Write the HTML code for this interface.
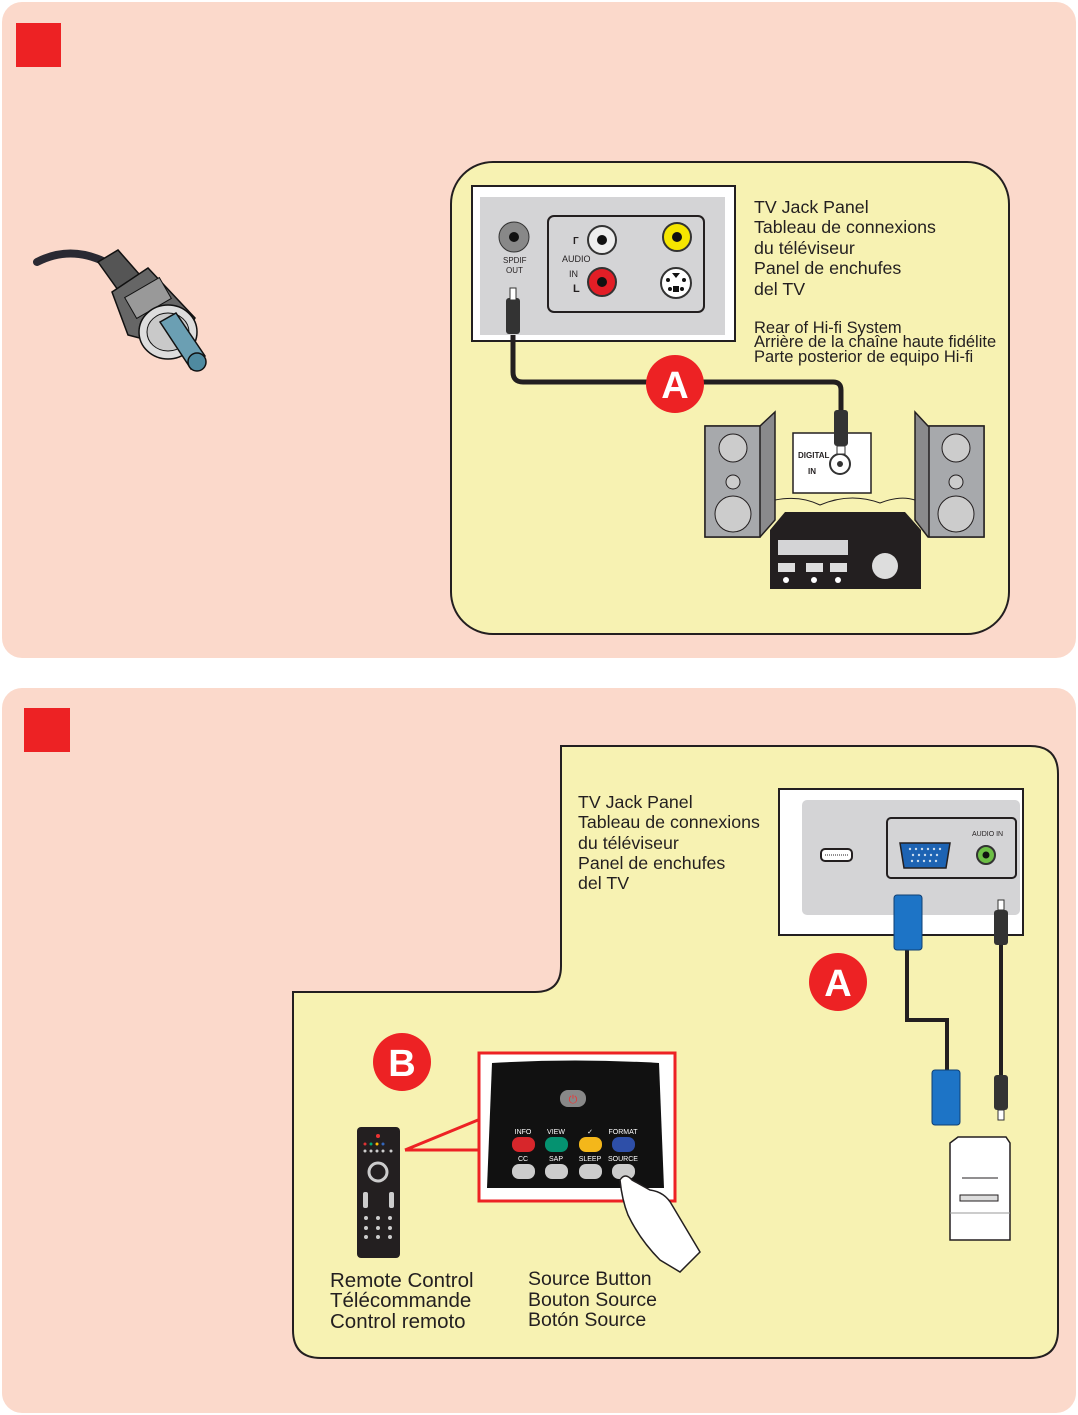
<!DOCTYPE html>
<html><head><meta charset="utf-8"><style>
html,body{margin:0;padding:0;background:#fff}
svg{display:block}
text{font-family:"Liberation Sans",sans-serif;fill:#231f20}
</style></head><body>
<svg width="1078" height="1415" viewBox="0 0 1078 1415" xmlns="http://www.w3.org/2000/svg">
<rect x="0" y="0" width="1078" height="1415" fill="#fff"/>
<rect x="2" y="2" width="1074" height="656" rx="20" fill="#fbd9cb"/>
<rect x="16" y="23" width="45" height="44" fill="#ed2224"/>
<rect x="451" y="162" width="558" height="472" rx="42" fill="#f7f2b2" stroke="#231f20" stroke-width="2"/>

<!-- plug icon -->
<g>
<path d="M37 262 Q70 245 105 262" stroke="#2a2a33" stroke-width="8" fill="none" stroke-linecap="round"/>
<path d="M98 262 L118 250 L160 298 L138 318 Z" fill="#555" stroke="#111" stroke-width="1.5"/>
<path d="M112 292 L148 268 L195 318 L178 348 L128 335 Z" fill="#666" stroke="#111" stroke-width="1.5"/>
<rect x="128" y="286" width="40" height="24" fill="#999" stroke="#111" transform="rotate(-30 148 298)"/>
<ellipse cx="168" cy="332" rx="29" ry="27" fill="#ddd" stroke="#111" stroke-width="1.5"/>
<ellipse cx="168" cy="332" rx="21" ry="19" fill="#c9c9c9" stroke="#111"/>
<path d="M160 322 L176 313 L205 356 L191 369 Z" fill="#6b9fb3" stroke="#111" stroke-width="1.5"/>
<circle cx="197" cy="362" r="9" fill="#4f8aa0" stroke="#111" stroke-width="1.5"/>
</g>

<!-- TV panel top -->
<rect x="472" y="186" width="263" height="155" fill="#fff" stroke="#231f20" stroke-width="2"/>
<rect x="480" y="197" width="245" height="138" fill="#d4d4d6"/>
<circle cx="514" cy="237" r="15" fill="#888" stroke="#333"/><circle cx="514" cy="237" r="5" fill="#111"/>
<text x="503" y="263" font-size="8">SPDIF</text><text x="506" y="273" font-size="8">OUT</text>
<rect x="548" y="216" width="156" height="96" rx="6" fill="none" stroke="#231f20" stroke-width="2"/>
<circle cx="602" cy="240" r="14" fill="#eee" stroke="#333" stroke-width="2"/><circle cx="602" cy="240" r="5" fill="#111"/>
<circle cx="602" cy="282" r="14" fill="#e21e26" stroke="#333" stroke-width="2"/><circle cx="602" cy="282" r="5" fill="#111"/>
<circle cx="677" cy="237" r="14" fill="#f5e600" stroke="#333" stroke-width="2"/><circle cx="677" cy="237" r="5" fill="#111"/>
<circle cx="676" cy="283" r="15" fill="#fff" stroke="#333" stroke-width="2"/>
<circle cx="668" cy="280" r="2" fill="#111"/><circle cx="684" cy="280" r="2" fill="#111"/><circle cx="670" cy="289" r="2" fill="#111"/><circle cx="682" cy="289" r="2" fill="#111"/><rect x="673" y="286" width="6" height="6" fill="#111"/><path d="M672 273 L680 273 L676 278 Z" fill="#111"/>
<text x="573" y="244" font-size="10" font-weight="bold">Г</text>
<text x="562" y="262" font-size="9">AUDIO</text><text x="569" y="277" font-size="9">IN</text>
<text x="573" y="292" font-size="11" font-weight="bold">L</text>
<path d="M513 335 L513 372 Q513 382 523 382 L833 382 Q841 382 841 390 L841 412" stroke="#231f20" stroke-width="5" fill="none"/>
<rect x="506" y="298" width="14" height="36" rx="3" fill="#333"/><rect x="510" y="288" width="6" height="12" fill="#fff" stroke="#333"/>
<circle cx="675" cy="384" r="29" fill="#ed2224"/>
<text x="675" y="398" font-size="38" font-weight="bold" text-anchor="middle" style="fill:#fff">A</text>

<!-- hifi -->
<path d="M705 426 L760 426 L775 412 L775 520 L760 537 L705 537 Z" fill="#8a8a8c" stroke="#231f20" stroke-width="1.5"/>
<rect x="705" y="426" width="55" height="111" fill="#a7a9ac" stroke="#231f20" stroke-width="1.5"/>
<circle cx="733" cy="448" r="14" fill="#ccc" stroke="#231f20"/><circle cx="733" cy="482" r="7" fill="#ccc" stroke="#231f20"/><circle cx="733" cy="514" r="18" fill="#ccc" stroke="#231f20"/>
<path d="M915 412 L928 426 L984 426 L984 537 L928 537 L915 520 Z" fill="#8a8a8c" stroke="#231f20" stroke-width="1.5"/>
<rect x="929" y="426" width="55" height="111" fill="#a7a9ac" stroke="#231f20" stroke-width="1.5"/>
<circle cx="956" cy="448" r="14" fill="#ccc" stroke="#231f20"/><circle cx="956" cy="482" r="7" fill="#ccc" stroke="#231f20"/><circle cx="956" cy="514" r="18" fill="#ccc" stroke="#231f20"/>
<path d="M775 500 Q800 495 820 505 Q850 492 880 503 Q900 495 915 500" stroke="#231f20" fill="none"/>
<rect x="793" y="433" width="78" height="60" fill="#fff" stroke="#231f20" stroke-width="1.5"/>
<text x="798" y="458" font-size="8" font-weight="bold">DIGITAL</text><text x="808" y="474" font-size="8" font-weight="bold">IN</text>
<circle cx="840" cy="464" r="10" fill="#fff" stroke="#333" stroke-width="2"/><circle cx="840" cy="464" r="3" fill="#333"/>
<rect x="834" y="410" width="14" height="36" rx="3" fill="#333"/><rect x="837" y="446" width="8" height="8" fill="#fff" stroke="#333"/>
<path d="M785 512 L905 512 L921 530 L921 589 L770 589 L770 530 Z" fill="#231f20"/>
<rect x="778" y="540" width="70" height="15" fill="#d4d4d6"/>
<rect x="778" y="563" width="17" height="9" fill="#ddd"/><rect x="806" y="563" width="17" height="9" fill="#ddd"/><rect x="830" y="563" width="17" height="9" fill="#ddd"/>
<circle cx="786" cy="580" r="3" fill="#fff"/><circle cx="814" cy="580" r="3" fill="#fff"/><circle cx="838" cy="580" r="3" fill="#fff"/>
<circle cx="885" cy="566" r="13" fill="#ddd"/>

<g font-size="17.8">
<text x="754" y="213">TV Jack Panel</text>
<text x="754" y="233">Tableau de connexions</text>
<text x="754" y="254">du téléviseur</text>
<text x="754" y="274">Panel de enchufes</text>
<text x="754" y="295">del TV</text>
</g>
<g font-size="16.5">
<text x="754" y="333">Rear of Hi-fi System</text>
<text x="754" y="347">Arrière de la chaîne haute fidélite</text>
<text x="754" y="362">Parte posterior de equipo Hi-fi</text>
</g>

<!-- bottom panel -->
<rect x="2" y="688" width="1074" height="725" rx="20" fill="#fbd9cb"/>
<rect x="24" y="708" width="46" height="44" fill="#ed2224"/>
<path d="M561 746 L1030 746 Q1058 746 1058 774 L1058 1330 Q1058 1358 1030 1358 L321 1358 Q293 1358 293 1330 L293 992 L535 992 Q561 992 561 966 Z" fill="#f7f2b2" stroke="#231f20" stroke-width="2"/>
<g font-size="17.8">
<text x="578" y="808">TV Jack Panel</text>
<text x="578" y="828">Tableau de connexions</text>
<text x="578" y="849">du téléviseur</text>
<text x="578" y="869">Panel de enchufes</text>
<text x="578" y="889">del TV</text>
</g>
<rect x="779" y="789" width="244" height="146" fill="#fff" stroke="#231f20" stroke-width="2"/>
<rect x="802" y="800" width="218" height="115" rx="5" fill="#d4d4d6"/>
<rect x="887" y="818" width="129" height="60" rx="4" fill="none" stroke="#231f20" stroke-width="2"/>
<rect x="821" y="849" width="31" height="12" rx="4" fill="#fff" stroke="#231f20" stroke-width="2"/>
<line x1="825" y1="855" x2="848" y2="855" stroke="#231f20" stroke-dasharray="1 1"/>
<path d="M900 843 L950 843 L946 868 L904 868 Z" fill="#1d63b3" stroke="#231f20" stroke-width="1.5"/>
<g fill="#cde">
<circle cx="910" cy="849" r="1.2"/><circle cx="916" cy="849" r="1.2"/><circle cx="922" cy="849" r="1.2"/><circle cx="928" cy="849" r="1.2"/><circle cx="934" cy="849" r="1.2"/><circle cx="940" cy="849" r="1.2"/>
<circle cx="913" cy="855" r="1.2"/><circle cx="919" cy="855" r="1.2"/><circle cx="925" cy="855" r="1.2"/><circle cx="931" cy="855" r="1.2"/><circle cx="937" cy="855" r="1.2"/>
<circle cx="912" cy="861" r="1.2"/><circle cx="918" cy="861" r="1.2"/><circle cx="924" cy="861" r="1.2"/><circle cx="930" cy="861" r="1.2"/><circle cx="936" cy="861" r="1.2"/>
</g>
<circle cx="986" cy="855" r="9" fill="#6cbe45" stroke="#333" stroke-width="2"/><circle cx="986" cy="855" r="3.5" fill="#111"/>
<text x="972" y="836" font-size="7">AUDIO IN</text>
<path d="M907 945 L907 1020 L947 1020 L947 1072" stroke="#231f20" stroke-width="4" fill="none"/>
<path d="M1001 945 L1001 1075" stroke="#231f20" stroke-width="4" fill="none"/>
<rect x="894" y="895" width="28" height="55" rx="3" fill="#1d74c6" stroke="#0f3f73"/>
<rect x="932" y="1070" width="28" height="55" rx="3" fill="#1d74c6" stroke="#0f3f73"/>
<rect x="994" y="910" width="14" height="35" rx="3" fill="#333"/><rect x="998" y="900" width="6" height="10" fill="#fff" stroke="#333"/>
<rect x="994" y="1075" width="14" height="35" rx="3" fill="#333"/><rect x="998" y="1110" width="6" height="10" fill="#fff" stroke="#333"/>
<circle cx="838" cy="982" r="29" fill="#ed2224"/>
<text x="838" y="996" font-size="38" font-weight="bold" text-anchor="middle" style="fill:#fff">A</text>
<path d="M958 1137 L1006 1137 L1010 1143 L1010 1240 L950 1240 L950 1143 Z" fill="#fff" stroke="#231f20" stroke-width="1.5"/>
<line x1="962" y1="1178" x2="998" y2="1178" stroke="#231f20"/>
<rect x="960" y="1195" width="38" height="6" fill="#ddd" stroke="#231f20"/>
<line x1="950" y1="1213" x2="1010" y2="1213" stroke="#999"/>

<circle cx="402" cy="1062" r="29" fill="#ed2224"/>
<text x="402" y="1076" font-size="38" font-weight="bold" text-anchor="middle" style="fill:#fff">B</text>
<rect x="357" y="1127" width="43" height="131" rx="4" fill="#231f20"/>
<g fill="#ccc">
<circle cx="378" cy="1136" r="2" fill="#e33"/>
<circle cx="365" cy="1144" r="1.5" fill="#d33"/><circle cx="371" cy="1144" r="1.5" fill="#0a7"/><circle cx="377" cy="1144" r="1.5" fill="#fb0"/><circle cx="383" cy="1144" r="1.5" fill="#36b"/>
<circle cx="365" cy="1151" r="1.5"/><circle cx="371" cy="1151" r="1.5"/><circle cx="377" cy="1151" r="1.5"/><circle cx="383" cy="1151" r="1.5"/><circle cx="391" cy="1151" r="1.5"/>
<circle cx="378" cy="1172" r="9" fill="none" stroke="#ccc" stroke-width="3"/>
<rect x="363" y="1192" width="5" height="16" rx="2"/><rect x="389" y="1192" width="5" height="16" rx="2"/>
<circle cx="366" cy="1218" r="2"/><circle cx="378" cy="1218" r="2"/><circle cx="390" cy="1218" r="2"/>
<circle cx="366" cy="1228" r="2"/><circle cx="378" cy="1228" r="2"/><circle cx="390" cy="1228" r="2"/>
<circle cx="366" cy="1237" r="2"/><circle cx="378" cy="1237" r="2"/><circle cx="390" cy="1237" r="2"/>
</g>
<path d="M405 1150 L478 1120 M405 1150 L478 1150" stroke="#ed2224" stroke-width="3"/>
<rect x="479" y="1053" width="196" height="148" fill="#fff" stroke="#ed2224" stroke-width="3"/>
<path d="M492 1063 Q575 1058 659 1063 L664 1188 L487 1188 Z" fill="#111"/>
<rect x="560" y="1090" width="26" height="17" rx="8" fill="#888"/>
<text x="573" y="1103" font-size="11" text-anchor="middle" style="fill:#e33">⏻</text>
<g font-size="7" text-anchor="middle">
<text x="523" y="1134" style="fill:#fff">INFO</text><text x="556" y="1134" style="fill:#fff">VIEW</text><text x="590" y="1134" style="fill:#fff">✓</text><text x="623" y="1134" style="fill:#fff">FORMAT</text>
<text x="523" y="1161" style="fill:#fff">CC</text><text x="556" y="1161" style="fill:#fff">SAP</text><text x="590" y="1161" style="fill:#fff">SLEEP</text><text x="623" y="1161" style="fill:#fff">SOURCE</text>
</g>
<rect x="512" y="1137" width="23" height="15" rx="7" fill="#d7262b"/>
<rect x="545" y="1137" width="23" height="15" rx="7" fill="#059270"/>
<rect x="579" y="1137" width="23" height="15" rx="7" fill="#f4b71a"/>
<rect x="612" y="1137" width="23" height="15" rx="7" fill="#2e4fa8"/>
<rect x="512" y="1164" width="23" height="15" rx="7" fill="#ccc"/>
<rect x="545" y="1164" width="23" height="15" rx="7" fill="#ccc"/>
<rect x="579" y="1164" width="23" height="15" rx="7" fill="#ccc"/>
<rect x="612" y="1164" width="23" height="15" rx="7" fill="#ccc"/>
<path d="M620 1180 Q625 1172 632 1180 L650 1190 Q665 1192 672 1205 L700 1252 L680 1272 L660 1260 Q640 1240 628 1215 Q622 1200 620 1180 Z" fill="#fff" stroke="#231f20" stroke-width="1.5"/>
<g font-size="20.5">
<text x="330" y="1287">Remote Control</text>
<text x="330" y="1307">Télécommande</text>
<text x="330" y="1328">Control remoto</text>
</g>
<g font-size="19.5">
<text x="528" y="1285">Source Button</text>
<text x="528" y="1306">Bouton Source</text>
<text x="528" y="1326">Botón Source</text>
</g>
</svg>
</body></html>
